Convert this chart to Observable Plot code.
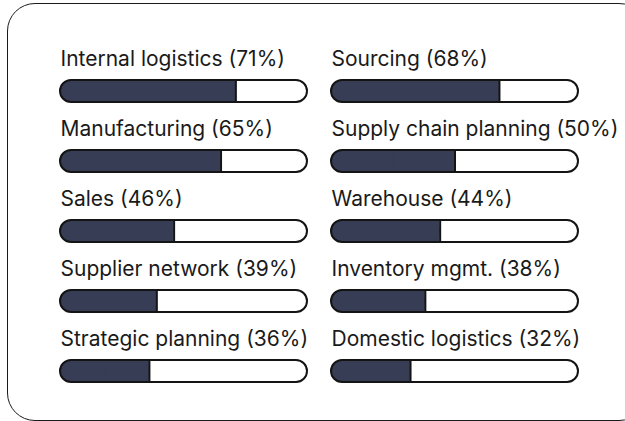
<!DOCTYPE html>
<html>
<head>
<meta charset="utf-8">
<script src="https://cdn.jsdelivr.net/npm/d3@7"></script>
<script src="https://cdn.jsdelivr.net/npm/@observablehq/plot@0.6"></script>
<style>
  html, body { margin: 0; padding: 0; background: #fff; overflow: hidden; }
  #wrap { position: relative; width: 625px; height: 421px; overflow: hidden; }
  #box { position: absolute; left: 7px; top: 3px; width: 640px; height: 418px;
         border: 1.5px solid #1a1a1a; border-radius: 28px; box-sizing: border-box; }
  #chart { position: absolute; left: 0; top: 0; }
</style>
</head>
<body>
<div id="wrap"><div id="box"></div><div id="chart"></div></div>
<script>
const labels = ["Internal logistics", "Sourcing", "Manufacturing", "Supply chain planning", "Sales", "Warehouse", "Supplier network", "Inventory mgmt.", "Strategic planning", "Domestic logistics"];
const values = [71, 68, 65, 50, 46, 44, 39, 38, 36, 32];

const data = labels.map((label, i) => ({label, value: values[i], col: i % 2, row: Math.floor(i / 2)}));

const fillColor = "#363d55";
const ink = "#141414";

const chart = Plot.plot({
  width: 625,
  height: 421,
  marginLeft: 60,
  marginRight: 47,
  marginTop: 80,
  marginBottom: 39,
  fx: {domain: [0, 1], paddingInner: 24 / 271, paddingOuter: 0, axis: null},
  x: {domain: [0, 100], axis: null},
  y: {domain: [0, 1, 2, 3, 4], paddingInner: 48 / 70, paddingOuter: 0, align: 0, axis: null},
  style: {fontFamily: "Inter, 'Noto Sans', sans-serif", background: "transparent"},
  marks: [
    Plot.barX(data, {fx: "col", y: "row", x1: 0, x2: 100, fill: "white", rx: 11}),
    Plot.barX(data, {fx: "col", y: "row", x1: 0, x2: "value", fill: fillColor, rx: 11}),
    Plot.barX(data, {fx: "col", y: "row", x1: d => d.value / 2, x2: "value", fill: fillColor}),
    Plot.tickX(data, {fx: "col", y: "row", x: "value", stroke: ink, strokeWidth: 2}),
    Plot.barX(data, {fx: "col", y: "row", x1: 0, x2: 100, fill: "none", stroke: ink, strokeWidth: 2, rx: 11}),
    Plot.text(data, {fx: "col", y: "row", x: 0, text: d => `${d.label} (${d.value}%)`, textAnchor: "start", dy: -32, fontSize: 21, fontWeight: 400, fill: "#1a1a1a"})
  ]
});
document.getElementById("chart").appendChild(chart);
</script>
</body>
</html>
